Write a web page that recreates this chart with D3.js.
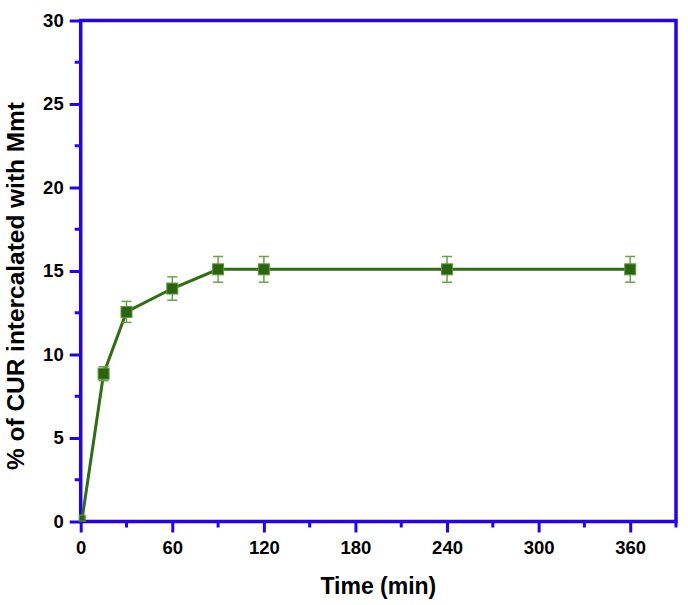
<!DOCTYPE html>
<html><head><meta charset="utf-8">
<script src="https://cdn.jsdelivr.net/npm/d3@7"></script>
<style>body{margin:0;background:#fff}svg{display:block}text{font-family:"Liberation Sans",Arial,sans-serif;font-weight:bold}</style>
</head><body>
<script>
const times = [1, 15, 30, 60, 90, 120, 240, 360];
const values = [0.2, 8.85, 12.55, 13.95, 15.1, 15.1, 15.1, 15.1];
const errors = [0, 0.42, 0.63, 0.7, 0.77, 0.77, 0.77, 0.77];
const xTicks = [0, 60, 120, 180, 240, 300, 360];
const yTicks = [0, 5, 10, 15, 20, 25, 30];

const W = 688, H = 605;
const m = {l: 80.7, r: 688 - 676, t: 20.5, b: 605 - 521.5};
const svg = d3.select("body").append("svg").attr("width", W).attr("height", H);
const x = d3.scaleLinear().domain([0, 390]).range([m.l, W - m.r]);
const y = d3.scaleLinear().domain([0, 30]).range([H - m.b, m.t]);
const blue = "#2400f5";
const lineC = "#2f6e12", fillC = "#2b640f", errC = "#6aa24a";

// minor ticks
const xMinor = d3.range(30, 391, 60);
const yMinor = d3.range(2.5, 30, 5);
const g = svg.append("g");
g.selectAll(".xmin").data(xMinor).join("line")
  .attr("x1", d => x(d)).attr("x2", d => x(d))
  .attr("y1", y(0)).attr("y2", y(0) + 6).attr("stroke", blue).attr("stroke-width", 3);
g.selectAll(".ymin").data(yMinor).join("line")
  .attr("y1", d => y(d)).attr("y2", d => y(d))
  .attr("x1", x(0)).attr("x2", x(0) - 6).attr("stroke", blue).attr("stroke-width", 3);

// major axes
const xAxis = svg.append("g").attr("transform", `translate(0,${y(0)})`)
  .call(d3.axisBottom(x).tickValues(xTicks).tickSize(11).tickPadding(8));
const yAxis = svg.append("g").attr("transform", `translate(${x(0)},0)`)
  .call(d3.axisLeft(y).tickValues(yTicks).tickSize(11).tickPadding(6));
[xAxis, yAxis].forEach(a => {
  a.select(".domain").remove();
  a.selectAll("line").attr("stroke", blue).attr("stroke-width", 3);
  a.selectAll("text").attr("fill", "#000").style("font-size", "18.5px");
});

// frame
svg.append("rect").attr("x", x(0)).attr("y", y(30)).attr("width", x(390) - x(0)).attr("height", y(0) - y(30))
  .attr("fill", "none").attr("stroke", blue).attr("stroke-width", 3.5);

// titles
svg.append("text").attr("x", (x(0) + x(390)) / 2).attr("y", 594).attr("text-anchor", "middle")
  .style("font-size", "23px").text("Time (min)");
svg.append("text").attr("transform", `translate(24,286) rotate(-90)`).attr("text-anchor", "middle")
  .attr("textLength", 368).attr("lengthAdjust", "spacingAndGlyphs")
  .style("font-size", "23px").text("% of CUR intercalated with Mmt");

// line
const data = times.map((t, i) => ({t, v: values[i], e: errors[i]}));
svg.append("path").datum(data).attr("fill", "none").attr("stroke", lineC).attr("stroke-width", 3)
  .attr("d", d3.line().x(d => x(d.t)).y(d => y(d.v)));

// error bars
const eb = svg.append("g").attr("stroke", errC).attr("stroke-width", 1.5);
data.filter(d => d.e > 0).forEach(d => {
  eb.append("line").attr("x1", x(d.t)).attr("x2", x(d.t)).attr("y1", y(d.v + d.e)).attr("y2", y(d.v - d.e));
  [d.v + d.e, d.v - d.e].forEach(v => eb.append("line").attr("x1", x(d.t) - 5).attr("x2", x(d.t) + 5).attr("y1", y(v)).attr("y2", y(v)));
});

// markers
svg.selectAll(".mk").data(data).join("rect")
  .attr("x", (d, i) => x(d.t) - (i === 0 ? 3 : 5.5))
  .attr("y", (d, i) => y(d.v) - (i === 0 ? 3 : 5.5))
  .attr("width", (d, i) => i === 0 ? 6 : 11).attr("height", (d, i) => i === 0 ? 6 : 11)
  .attr("fill", fillC).attr("stroke", "#5e9a3e").attr("stroke-width", 1);
</script>
</body></html>
